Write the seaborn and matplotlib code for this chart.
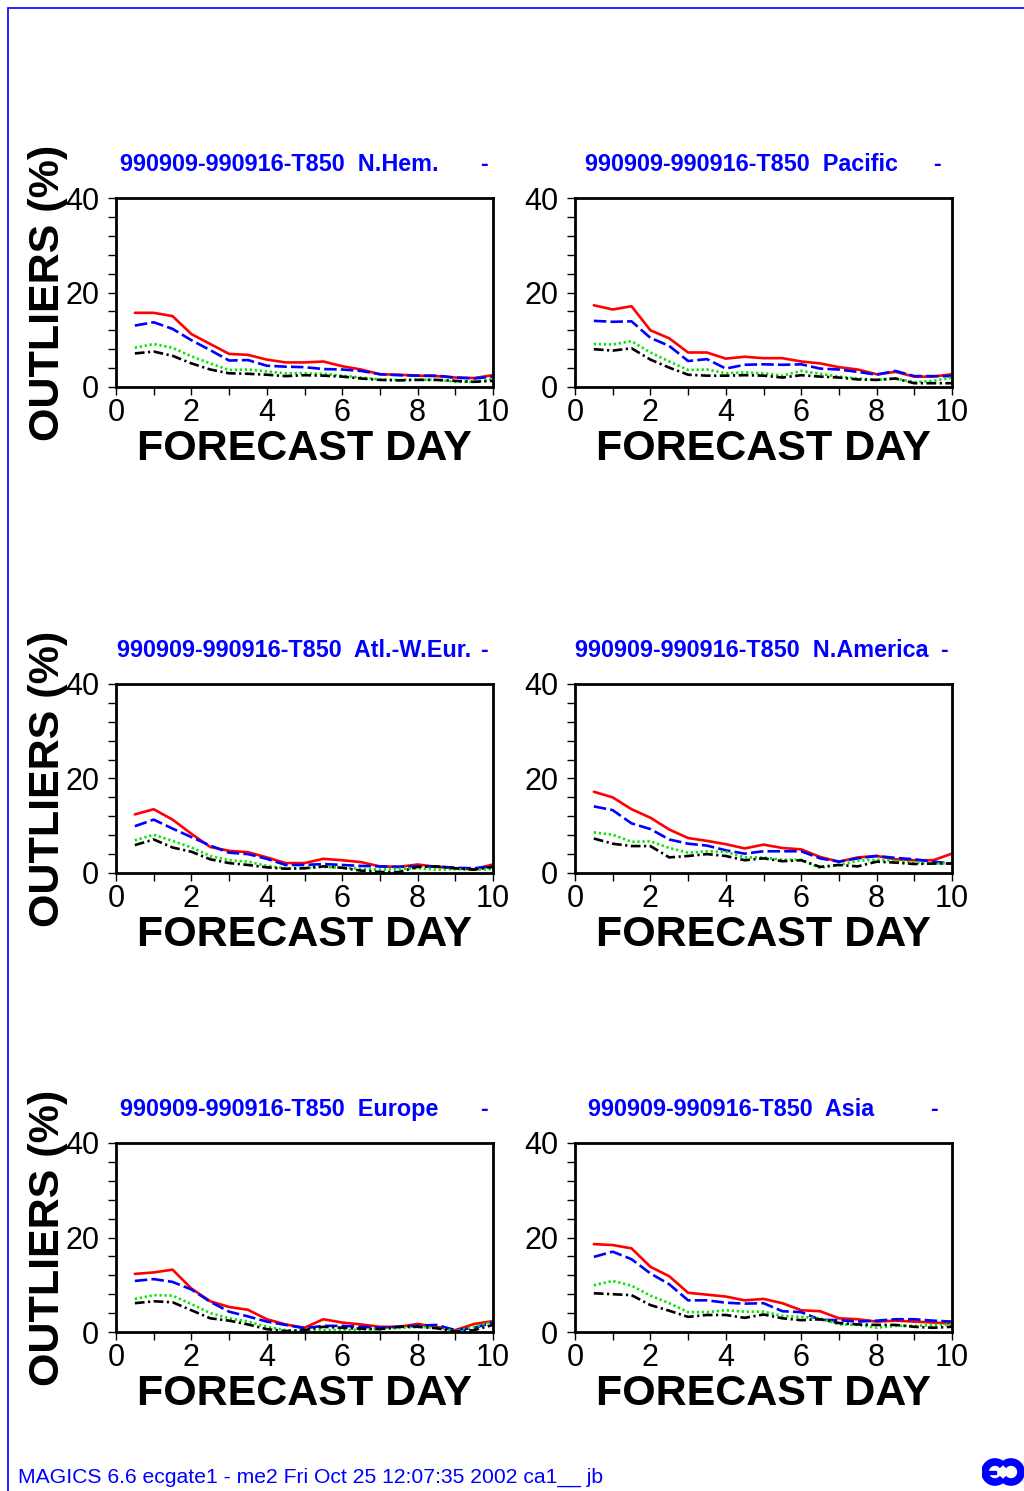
import numpy as np
import pandas as pd
import matplotlib
matplotlib.use("Agg")
import matplotlib.pyplot as plt
import seaborn as sns
from matplotlib.lines import Line2D
from matplotlib.patches import Arc, Rectangle
from matplotlib.ticker import MultipleLocator

# ---- data: outliers (%) against forecast day, four curves per region ----
days = [0.5, 1.0, 1.5, 2.0, 2.5, 3.0, 3.5, 4.0, 4.5, 5.0,
        5.5, 6.0, 6.5, 7.0, 7.5, 8.0, 8.5, 9.0, 9.5, 10.0]

nhem_solid   = [15.7, 15.7, 15.0, 11.2, 9.1, 7.0, 6.8, 5.8, 5.2, 5.2, 5.4, 4.4, 3.7, 2.7, 2.6, 2.4, 2.3, 2.0, 1.9, 2.5]
nhem_dash    = [13.0, 13.7, 12.3, 9.9, 7.8, 5.6, 5.7, 4.5, 4.3, 4.2, 3.8, 3.7, 3.4, 2.7, 2.5, 2.4, 2.4, 2.0, 1.8, 2.2]
nhem_dot     = [8.3, 9.1, 8.3, 6.5, 5.0, 3.6, 3.7, 3.3, 2.9, 2.9, 2.8, 2.4, 2.0, 1.6, 1.5, 1.6, 1.5, 1.1, 1.1, 1.7]
nhem_dashdot = [7.1, 7.5, 6.6, 5.0, 3.7, 2.9, 2.8, 2.6, 2.3, 2.5, 2.4, 2.2, 1.8, 1.5, 1.4, 1.5, 1.5, 1.3, 1.1, 1.3]

pac_solid   = [17.3, 16.4, 17.1, 12.0, 10.3, 7.3, 7.3, 6.0, 6.4, 6.1, 6.1, 5.4, 5.0, 4.2, 3.7, 2.7, 3.2, 2.2, 2.2, 2.7]
pac_dash    = [14.0, 13.8, 13.9, 10.4, 8.7, 5.5, 5.9, 3.9, 4.7, 4.8, 4.7, 4.8, 3.9, 3.7, 3.2, 2.6, 3.4, 2.3, 2.3, 2.3]
pac_dot     = [9.1, 9.0, 9.7, 7.3, 5.4, 3.6, 3.7, 2.9, 3.1, 2.9, 2.4, 3.4, 2.8, 2.2, 1.8, 1.5, 1.8, 1.0, 1.3, 2.0]
pac_dashdot = [8.0, 7.7, 8.2, 5.8, 4.1, 2.6, 2.4, 2.4, 2.5, 2.4, 2.0, 2.5, 2.2, 2.0, 1.6, 1.5, 1.8, 0.8, 0.8, 0.8]

atl_solid   = [12.4, 13.5, 11.3, 8.3, 5.5, 4.7, 4.4, 3.3, 2.1, 2.1, 3.0, 2.7, 2.3, 1.4, 1.3, 1.8, 1.3, 1.0, 0.8, 1.8]
atl_dash    = [9.9, 11.3, 9.4, 7.6, 5.8, 4.3, 4.0, 3.0, 1.7, 1.7, 1.9, 1.7, 1.5, 1.4, 1.3, 1.4, 1.4, 1.1, 1.0, 1.4]
atl_dot     = [6.9, 8.1, 6.8, 5.4, 3.6, 2.7, 2.4, 1.5, 1.0, 1.0, 1.3, 1.1, 0.9, 0.7, 0.9, 1.0, 0.7, 0.8, 0.7, 0.8]
atl_dashdot = [5.9, 7.1, 5.4, 4.5, 2.9, 2.1, 1.7, 1.2, 0.9, 1.0, 1.4, 1.1, 0.5, 0.2, 0.2, 1.3, 1.4, 1.0, 0.7, 1.3]

nam_solid   = [17.2, 16.0, 13.5, 11.7, 9.2, 7.4, 6.8, 6.1, 5.2, 6.0, 5.3, 5.0, 3.4, 2.4, 3.3, 3.6, 2.9, 2.7, 2.7, 4.1]
nam_dash    = [14.1, 13.3, 10.5, 9.3, 7.1, 6.2, 5.8, 4.8, 4.1, 4.6, 4.6, 4.6, 3.1, 2.4, 3.1, 3.6, 3.2, 2.9, 2.4, 2.0]
nam_dot     = [8.6, 8.1, 6.6, 6.7, 5.3, 4.3, 4.6, 4.5, 3.3, 3.3, 2.8, 2.8, 1.1, 1.7, 2.6, 2.8, 2.6, 2.2, 2.0, 2.0]
nam_dashdot = [7.3, 6.2, 5.7, 5.7, 3.3, 3.6, 4.0, 3.6, 2.7, 3.1, 2.5, 2.7, 1.3, 1.7, 1.4, 2.4, 2.2, 1.9, 2.0, 2.0]

eur_solid   = [12.3, 12.6, 13.2, 9.2, 6.5, 5.3, 4.7, 2.7, 1.6, 0.9, 2.7, 2.0, 1.6, 1.1, 1.1, 1.7, 1.1, 0.4, 1.7, 2.3]
eur_dash    = [10.8, 11.2, 10.6, 9.0, 6.4, 4.3, 3.3, 2.2, 1.5, 0.8, 1.3, 1.3, 1.1, 0.9, 1.1, 1.3, 1.5, 0.4, 0.9, 2.0]
eur_dot     = [7.0, 7.8, 7.7, 5.9, 4.0, 2.9, 2.2, 1.1, 0.4, 0.2, 0.4, 0.4, 0.5, 0.6, 0.8, 1.1, 0.9, 0.2, 1.1, 2.2]
eur_dashdot = [6.1, 6.5, 6.3, 4.6, 2.9, 2.4, 1.6, 0.6, 0.2, 0.4, 1.1, 0.9, 0.7, 0.6, 1.1, 1.1, 0.8, 0.1, 0.4, 1.5]

asia_solid   = [18.6, 18.4, 17.7, 13.8, 11.8, 8.3, 7.9, 7.5, 6.7, 7.0, 6.1, 4.6, 4.4, 2.9, 2.7, 2.2, 2.4, 2.2, 2.0, 1.8]
asia_dash    = [15.9, 17.0, 15.4, 12.4, 10.1, 6.7, 6.7, 6.2, 6.0, 6.1, 4.4, 4.2, 2.6, 2.5, 2.2, 2.4, 2.7, 2.7, 2.4, 2.2]
asia_dot     = [9.9, 10.8, 9.8, 7.7, 6.1, 4.2, 4.2, 4.6, 4.3, 4.3, 3.4, 3.2, 2.9, 1.6, 1.5, 0.9, 1.3, 1.3, 1.5, 1.6]
asia_dashdot = [8.2, 8.0, 7.8, 5.7, 4.5, 3.2, 3.6, 3.6, 3.0, 3.7, 2.9, 2.5, 2.7, 1.9, 1.6, 1.5, 1.5, 1.1, 0.9, 1.1]

region_names = ["N.Hem.", "Pacific", "Atl.-W.Eur.", "N.America", "Europe", "Asia"]
title_prefix = "990909-990916-T850"
y_ticks = [0, 20, 40]
x_ticks = [0, 2, 4, 6, 8, 10]
footer = "MAGICS 6.6 ecgate1 - me2 Fri Oct 25 12:07:35 2002 ca1__ jb"

regions = [
    (nhem_solid, nhem_dash, nhem_dot, nhem_dashdot),
    (pac_solid, pac_dash, pac_dot, pac_dashdot),
    (atl_solid, atl_dash, atl_dot, atl_dashdot),
    (nam_solid, nam_dash, nam_dot, nam_dashdot),
    (eur_solid, eur_dash, eur_dot, eur_dashdot),
    (asia_solid, asia_dash, asia_dot, asia_dashdot),
]

# ---- styling ----
sns.set_theme(style="white")
plt.rcParams["font.family"] = ["Liberation Sans", "DejaVu Sans"]
plt.rcParams["lines.scale_dashes"] = False

BLUE = "#0000ff"
curve_styles = [
    dict(color="#ff0000", linestyle="-"),
    dict(color="#0000ff", linestyle=(0, (9, 3))),
    dict(color="#00e600", linestyle=(0, (1.6, 2.0))),
    dict(color="#000000", linestyle=(0, (7, 2.5, 1.6, 2.5))),
]

W, H = 1024, 1491
fig = plt.figure(figsize=(W / 100, H / 100), dpi=100)

# panel geometry in pixels: left edges, top edges, width, height
lefts = [116, 575]
tops = [198, 684, 1143]
pw, ph = 377, 189

# per-panel title placement (axes fraction x for the title and the trailing dash)
title_x = [0.011, 0.027, 0.003, 0.0, 0.011, 0.034]
dash_x = [0.966, 0.950, 0.966, 0.968, 0.966, 0.942]

for i, (name, series) in enumerate(zip(region_names, regions)):
    r, c = divmod(i, 2)
    left = lefts[c]
    top = tops[r]
    ax = fig.add_axes([left / W, 1 - (top + ph) / H, pw / W, ph / H])

    for vals, st in zip(series, curve_styles):
        df = pd.DataFrame({"day": days, "pct": vals})
        sns.lineplot(data=df, x="day", y="pct", ax=ax, color=st["color"],
                     linestyle=st["linestyle"], linewidth=1.9, legend=False)

    ax.set_xlim(0, 10)
    ax.set_ylim(0, 40)
    ax.set_xticks(x_ticks)
    ax.set_yticks(y_ticks)
    ax.xaxis.set_minor_locator(MultipleLocator(1))
    ax.yaxis.set_minor_locator(MultipleLocator(4))
    ax.tick_params(which="both", direction="out", length=6, width=1.0,
                   color="black", labelsize=22, labelcolor="black")
    ax.tick_params(axis="x", which="both", pad=2, bottom=True)
    ax.tick_params(axis="y", which="both", pad=6, left=True)
    ax.set_xlabel("")
    ax.set_ylabel("")
    for sp in ax.spines.values():
        sp.set_visible(True)
        sp.set_color("black")
        sp.set_linewidth(2.0)

    ax.text(0.5, -0.33, "FORECAST DAY", transform=ax.transAxes,
            ha="center", va="center", fontsize=31, fontweight="bold", color="black")
    if c == 0:
        ax.text(-0.18, 0.5, "OUTLIERS (%)", transform=ax.transAxes, rotation=90,
                ha="center", va="center", fontsize=31, fontweight="bold", color="black")

    ax.text(title_x[i], 1.178, f"{title_prefix}  {name}", transform=ax.transAxes,
            ha="left", va="center", fontsize=16.8, fontweight="bold", color=BLUE)
    ax.text(dash_x[i], 1.178, "-", transform=ax.transAxes,
            ha="left", va="center", fontsize=16.8, fontweight="bold", color=BLUE)

# page frame (left and top edges)
fig.add_artist(Line2D([8 / W, 8 / W], [0, 1 - 8 / H], color=BLUE, linewidth=1.2,
                      transform=fig.transFigure))
fig.add_artist(Line2D([8 / W, 1], [1 - 8 / H, 1 - 8 / H], color=BLUE, linewidth=1.2,
                      transform=fig.transFigure))

# footer line
fig.text(18 / W, 1 - 1477 / H, footer, ha="left", va="center",
         fontsize=15.2, color=BLUE)

# small logo in the lower right corner
lax = fig.add_axes([982 / W, 1 - 1487 / H, 42 / W, 30 / H])
lax.set_xlim(0, 42)
lax.set_ylim(0, 30)
lax.axis("off")
lax.add_patch(Arc((13, 15), 20, 20, theta1=40, theta2=320, linewidth=5.5, color=BLUE))
lax.add_patch(Arc((29, 15), 20, 20, theta1=220, theta2=140, linewidth=5.5, color=BLUE))
lax.add_patch(Rectangle((2, 13.5), 12, 3, color=BLUE))

fig.savefig("out.png", dpi=100, facecolor="white")
